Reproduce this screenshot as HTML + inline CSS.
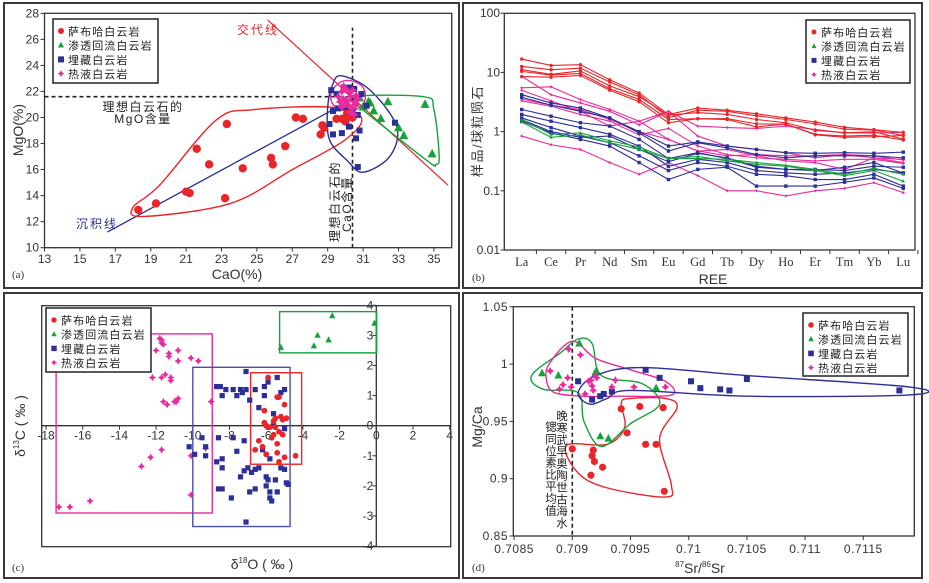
<!DOCTYPE html>
<html><head><meta charset="utf-8">
<style>
html,body{margin:0;padding:0;background:#fff;}
svg{display:block;font-family:"Liberation Sans","Noto Sans CJK SC",sans-serif;}
</style></head>
<body>
<svg id="fig" width="929" height="583" viewBox="0 0 929 583" xmlns="http://www.w3.org/2000/svg"></svg>
<script>
// ---------- Panel (a) data: CaO (%) vs MgO (%) ----------
const aRedX = [18.3,19.3,21.0,21.2,21.6,22.3,23.2,23.3,24.2,25.8,25.9,26.6,27.2,27.6,28.6,28.7,28.8,29.5,29.8,30.0,30.1,30.3,30.4];
const aRedY = [12.9,13.4,14.3,14.2,17.6,16.4,13.8,19.5,16.1,16.9,16.4,17.8,20.0,19.9,18.7,19.4,19.2,19.9,19.9,19.7,20.3,20.1,20.0];
const aGreenX = [30.8,31.0,31.3,31.4,31.6,32.0,32.4,33.0,33.3,34.5,34.9];
const aGreenY = [21.5,20.8,21.2,21.1,20.5,19.9,21.2,19.2,18.6,21.0,17.2];
const aBlueX = [29.2,29.5,29.9,30.2,30.5,30.9,29.3,29.6,30.0,30.4,30.7,29.1,29.3,29.8,30.2,30.6,30.8,32.8,30.7,31.2];
const aBlueY = [22.1,21.8,22.3,22.3,22.2,21.8,20.5,20.7,20.8,20.6,20.2,19.5,18.7,18.8,19.3,18.4,19.0,19.6,16.2,20.9];
const aMagX = [29.6,29.8,30.0,30.2,30.4,30.6,29.7,29.9,30.1,30.3,30.5,30.7,29.8,30.0,30.2,30.4,30.6,29.9,30.3,30.5];
const aMagY = [21.6,22.0,22.2,21.9,22.1,21.7,21.2,21.4,21.3,21.6,21.2,21.4,20.8,21.0,20.9,20.7,21.0,22.4,20.4,20.2];
const aRedEnvX = [18.0,19.5,22.7,24.8,29.1,30.9,30.0,27.0,23.5,18.6];
const aRedEnvY = [13.1,14.8,19.8,20.6,20.8,20.0,18.3,16.0,13.4,12.4];
const aBlueEnvX = [29.8,31.4,32.9,32.5,31.0,30.1,29.1,29.0,29.3];
const aBlueEnvY = [23.2,22.1,19.3,17.0,15.8,16.7,18.3,20.8,22.6];
const aGreenEnvX = [30.3,34.4,35.0,35.3,35.1,34.6,30.8];
const aGreenEnvY = [21.6,21.6,20.6,17.0,16.4,16.7,20.8];
const aMagEnvX = [29.2,29.7,30.4,31.0,31.1,30.6,30.0,29.3];
const aMagEnvY = [21.9,22.7,22.8,22.3,21.3,20.6,20.5,21.0];
const aXTicks = [13,15,17,19,21,23,25,27,29,31,33,35];
const aYTicks = [10,12,14,16,18,20,22,24,26,28];
const aReplLine = [[25.6,27.5],[35.8,14.8]];
const aSedLine = [[16.55,11.2],[30.8,21.7]];
const aIdealMgO = 21.6, aIdealCaO = 30.4;

// ---------- Panel (b) data: REE chondrite normalised ----------
const bCats = ["La","Ce","Pr","Nd","Sm","Eu","Gd","Tb","Dy","Ho","Er","Tm","Yb","Lu"];
const bYTicks = [100,10,1,0.1,0.01];
const bYLabels = ["100","10","1","0.1","0.01"];
const bRed = [
 [16.8,13.1,13.5,7.5,4.5,1.94,2.5,2.3,2.0,1.7,1.45,1.18,1.08,0.97],
 [12.6,11.1,11.8,6.9,4.2,1.72,2.3,2.2,1.85,1.6,1.35,1.1,1.06,0.86],
 [11.1,9.3,10.6,5.9,3.9,1.9,2.1,1.95,1.6,1.41,1.05,0.96,0.99,0.75],
 [10.4,9.0,9.6,5.3,3.5,1.6,1.65,1.65,1.35,1.33,0.9,0.84,0.87,0.72],
 [8.5,8.3,8.9,5.0,3.2,1.41,1.65,1.6,1.2,1.35,0.88,0.8,0.82,0.86]];
const bGreen = [
 [1.6,0.9,0.95,0.7,0.55,0.35,0.35,0.34,0.3,0.27,0.23,0.19,0.24,0.19],
 [1.45,0.8,0.88,0.65,0.5,0.35,0.38,0.32,0.28,0.26,0.22,0.18,0.22,0.145]];
const bBlue = [
 [4.2,3.05,2.5,1.7,1.0,0.57,0.67,0.57,0.5,0.44,0.43,0.44,0.43,0.45],
 [3.8,2.8,2.2,1.7,0.95,0.47,0.65,0.53,0.41,0.36,0.39,0.39,0.39,0.36],
 [2.36,1.82,1.41,1.24,0.74,0.35,0.44,0.35,0.25,0.23,0.23,0.22,0.26,0.25],
 [1.95,1.5,1.17,0.9,0.57,0.26,0.34,0.3,0.22,0.2,0.19,0.2,0.23,0.2],
 [1.7,1.17,0.84,0.65,0.39,0.22,0.3,0.26,0.19,0.18,0.155,0.155,0.19,0.12],
 [1.5,0.95,0.74,0.57,0.3,0.155,0.23,0.25,0.12,0.12,0.12,0.14,0.165,0.11],
 [1.6,1.0,0.8,0.84,0.5,0.31,0.43,0.36,0.26,0.23,0.22,0.25,0.3,0.2]];
const bMag = [
 [8.6,4.2,3.05,2.2,1.3,2.2,0.84,0.57,0.5,0.44,0.36,0.41,0.36,0.34],
 [5.5,5.7,3.47,2.36,1.5,2.2,1.24,1.17,1.13,1.24,1.09,0.95,0.95,0.97],
 [3.3,2.68,1.95,1.5,0.88,1.13,0.57,0.41,0.36,0.34,0.32,0.34,0.34,0.29],
 [5.0,3.3,2.2,1.24,1.5,0.74,0.47,0.5,0.39,0.32,0.3,0.23,0.36,0.3],
 [0.84,0.6,0.5,0.3,0.19,0.3,0.18,0.1,0.1,0.082,0.1,0.11,0.137,0.093],
 [3.55,2.8,2.36,1.6,1.0,0.74,0.47,0.39,0.41,0.39,0.39,0.41,0.39,0.33]];

// ---------- Panel (c) data: d18O vs d13C ----------
const cMagX = [-11.8,-11.7,-11.7,-11.6,-12.0,-11.3,-11.3,-10.8,-10.8,-10.1,-9.7,-12.2,-11.7,-11.5,-11.2,-11.2,-11.6,-11.4,-11.0,-10.9,-10.8,-9.0,-11.7,-12.3,-12.8,-10.1,-10.1,-9.3,-15.6,-16.7,-17.3];
const cMagY = [2.9,2.85,2.75,2.7,2.5,2.4,2.3,2.5,2.15,2.25,2.15,1.6,1.6,1.7,1.6,1.5,0.8,0.7,0.8,0.8,0.9,0.8,-0.8,-1.05,-1.35,-1.0,-2.3,-0.75,-2.5,-2.7,-2.7];
const cGreenX = [-5.2,-3.4,-3.2,-2.6,-2.4,-0.1];
const cGreenY = [2.6,2.65,3.0,2.85,3.65,3.4];
const cBlueX = [-7.1,-8.7,-8.5,-8.2,-7.8,-7.4,-7.3,-7.1,-6.6,-6.1,-5.9,-5.4,-5.2,-5.0,-8.4,-7.6,-6.9,-6.1,-6.4,-5.6,-5.6,-5.0,-9.5,-10.2,-9.3,-8.6,-7.8,-7.2,-9.9,-9.3,-8.7,-8.4,-8.4,-7.6,-6.2,-5.8,-7.2,-7.0,-6.8,-6.6,-6.4,-7.4,-6.0,-5.9,-5.2,-5.5,-5.0,-4.9,-4.8,-8.6,-8.4,-6.6,-6.9,-6.0,-5.8,-5.4,-5.8,-5.7,-7.9,-7.1];
const cBlueY = [1.8,1.3,1.3,1.2,1.2,1.2,1.1,1.2,1.2,1.3,1.45,1.6,1.1,1.2,1.0,1.0,0.85,1.0,0.6,0.4,0.0,-0.1,-0.4,-0.7,-0.7,-0.4,-0.4,-0.5,-0.95,-1.0,-1.2,-1.1,-1.4,-0.85,-0.8,-1.1,-1.5,-1.4,-1.55,-1.45,-1.4,-1.7,-1.7,-1.8,-1.4,-1.8,-1.45,-1.9,-1.95,-2.1,-2.1,-2.1,-2.2,-2.0,-2.2,-2.2,-2.4,-2.5,-2.4,-3.2];
const cRedX = [-5.9,-5.4,-5.3,-5.0,-6.1,-6.1,-5.5,-5.2,-5.1,-4.9,-5.6,-5.9,-6.0,-5.8,-5.5,-5.3,-5.1,-5.6,-6.4,-5.4,-6.2,-6.6,-6.0,-5.4,-5.0,-5.3,-4.4,-5.7];
const cRedY = [1.6,0.95,0.95,0.7,0.5,0.1,0.25,0.3,0.2,0.25,0.15,-0.05,0.0,-0.05,-0.05,-0.2,-0.3,-0.3,-0.5,-0.6,-0.7,-0.8,-0.95,-0.9,-1.05,-1.2,-1.0,-0.4];
const cMagBox = [-17.45,-8.94,-2.9,3.05];
const cBlueBox = [-10.0,-4.7,-3.35,1.94];
const cRedBox = [-6.85,-4.07,-1.28,1.76];
const cGreenBox = [-5.27,0.02,2.42,3.79];
const cXTicks = [-18,-16,-14,-12,-10,-8,-6,-4,-2,0,2,4];
const cYTicks = [-4,-3,-2,-1,0,1,2,3,4];

// ---------- Panel (d) data: 87Sr/86Sr vs Mg/Ca ----------
const dRedX = [0.7090,0.70918,0.70917,0.70919,0.70916,0.70926,0.70942,0.70947,0.70958,0.70963,0.70972,0.70978,0.70979];
const dRedY = [0.926,0.925,0.920,0.915,0.903,0.910,0.961,0.940,0.963,0.930,0.930,0.962,0.889];
const dGreenX = [0.70874,0.70888,0.70906,0.70920,0.70924,0.70931,0.70972];
const dGreenY = [0.992,0.990,1.018,0.993,0.937,0.935,0.979];
const dBlueX = [0.70905,0.70917,0.70924,0.70927,0.70934,0.70963,0.70975,0.71002,0.7101,0.71027,0.71035,0.7105,0.71181];
const dBlueY = [0.985,0.969,0.972,0.974,0.976,0.995,0.988,0.985,0.979,0.978,0.977,0.987,0.977];
const dMagX = [0.70881,0.70889,0.70892,0.70896,0.70897,0.70899,0.70907,0.70911,0.70914,0.70916,0.70917,0.70918,0.7092,0.70921,0.70934,0.70937,0.70953,0.7098];
const dMagY = [0.994,0.978,0.982,0.988,1.013,0.980,1.008,0.974,0.985,0.986,0.981,0.977,0.990,0.988,0.980,0.986,0.980,0.980];
const dRedEnvX = [0.70895,0.7093,0.70945,0.70942,0.7095,0.7098,0.7099,0.70975,0.70985,0.7098,0.7093,0.70905];
const dRedEnvY = [0.929,0.930,0.945,0.966,0.970,0.970,0.962,0.935,0.895,0.884,0.892,0.905];
const dGreenEnvX = [0.70865,0.7089,0.70905,0.70917,0.70925,0.7096,0.70975,0.7095,0.70925,0.7091,0.70905,0.70875];
const dGreenEnvY = [0.990,1.010,1.022,1.018,0.990,0.983,0.965,0.948,0.928,0.950,0.975,0.978];
const dMagEnvX = [0.7088,0.709,0.7092,0.7095,0.7098,0.70985,0.7094,0.7091,0.70885,0.70878];
const dMagEnvY = [1.000,1.020,1.005,0.995,0.985,0.973,0.972,0.972,0.975,0.985];
const dBlueEnvX = [0.70905,0.7092,0.7096,0.7105,0.7119,0.71188,0.7105,0.7095,0.7093,0.70915];
const dBlueEnvY = [0.975,0.990,0.997,0.990,0.980,0.973,0.972,0.977,0.970,0.965];
const dXTicks = [0.7085,0.709,0.7095,0.71,0.7105,0.711,0.7115];
const dXLabels = ["0.7085","0.709","0.7095","0.71","0.7105","0.711","0.7115"];
const dYTicks = [0.85,0.9,0.95,1,1.05];
const dYLabels = ["0.85","0.9","0.95","1","1.05"];
const dSeawater = 0.709;

const legendNames = ["萨布哈白云岩","渗透回流白云岩","埋藏白云岩","热液白云岩"];

// ---------- helpers ----------
const NS = "http://www.w3.org/2000/svg";
const svg = document.getElementById("fig");
const RED="#e8262a", GREEN="#17a13a", BLUE="#2b2f96", MAG="#ea2a9c", INK="#333";
function mk(parent, tag, attrs, text){
  const el = document.createElementNS(NS, tag);
  for (const k in attrs) el.setAttribute(k, attrs[k]);
  if (text !== undefined) el.textContent = text;
  parent.appendChild(el);
  return el;
}
function group(name){
  const g = mk(svg, "g", {});
  
  
  return g;
}
function marker(g, type, x, y, s, name){
  let el;
  if (type === "circle") el = mk(g, "circle", {cx:x, cy:y, r:s, fill:RED});
  else if (type === "tri") el = mk(g, "polygon", {points:`${x},${y-s*1.15} ${x+s},${y+s*0.75} ${x-s},${y+s*0.75}`, fill:GREEN});
  else if (type === "square") el = mk(g, "rect", {x:x-s, y:y-s, width:2*s, height:2*s, fill:BLUE});
  else {
    const a=s*1.1, b=s*0.4;
    el = mk(g, "polygon", {points:`${x},${y-a} ${x+b},${y-b} ${x+a},${y} ${x+b},${y+b} ${x},${y+a} ${x-b},${y+b} ${x-a},${y} ${x-b},${y-b}`, fill:MAG});
  }
  
  
  return el;
}
function closedSpline(pts){
  const n = pts.length; let d = `M${pts[0][0]},${pts[0][1]}`;
  for (let i=0;i<n;i++){
    const p0=pts[(i-1+n)%n], p1=pts[i], p2=pts[(i+1)%n], p3=pts[(i+2)%n];
    const c1=[p1[0]+(p2[0]-p0[0])/6, p1[1]+(p2[1]-p0[1])/6];
    const c2=[p2[0]-(p3[0]-p1[0])/6, p2[1]-(p3[1]-p1[1])/6];
    d += ` C${c1[0]},${c1[1]} ${c2[0]},${c2[1]} ${p2[0]},${p2[1]}`;
  }
  return d + "Z";
}
function envelope(g, xs, ys, sx, sy, color, name){
  const pts = xs.map((v,i)=>[sx(v), sy(ys[i])]);
  const el = mk(g, "path", {d:closedSpline(pts), fill:"none", stroke:color, "stroke-width":1.4});
  
  
}
function txt(g, x, y, s, opts, name){
  const a = Object.assign({x:x, y:y, "font-size":12, fill:INK}, opts||{});
  const el = mk(g, "text", a, s);
  
  
  return el;
}
function frame(x1,y1,x2,y2,name){
  const el = mk(svg, "rect", {x:x1, y:y1, width:x2-x1, height:y2-y1, fill:"none", stroke:"#3a3a3a", "stroke-width":2});
  
  
}
function legend(x, y, w, h, rowH, size, name){
  const g = group(name);
  const box = mk(g, "rect", {x:x, y:y, width:w, height:h, fill:"#fff", stroke:"#222", "stroke-width":1.5});
  
  
  const types = ["circle","tri","square","star"];
  legendNames.forEach((nm,i)=>{
    const yy = y + 12 + i*rowH;
    marker(g, types[i], x+8, yy, size, 'legend-marker');
    txt(g, x+15, yy+4.5, nm, {"font-size":11, "letter-spacing":1.1, fill:"#222"}, 'legend-entry');
  });
}

frame(4,3,459,288,'panel-a-frame');
frame(463,3,922,288,'panel-b-frame');
frame(4,293,459,578,'panel-c-frame');
frame(463,293,922,578,'panel-d-frame');

// ================= Panel (a) =================
(function(){
  const ax = v => 44.5 + (v-13)*17.7;
  const ay = v => 247.7 - (v-10)*13.02;
  const g = group('panel-a');
  const b = mk(g,"rect",{x:44.5,y:13.3,width:407.2,height:234.4,fill:"none",stroke:INK,"stroke-width":1.3});
   
  aXTicks.forEach(t=>{
    const l = mk(g,"line",{x1:ax(t),x2:ax(t),y1:247.7,y2:251.5,stroke:INK});
     
    txt(g, ax(t), 263, t, {"text-anchor":"middle"}, 'x-tick-label');
  });
  aYTicks.forEach(t=>{
    const l = mk(g,"line",{x1:40.5,x2:44.5,y1:ay(t),y2:ay(t),stroke:INK});
     
    txt(g, 39, ay(t)+4, t, {"text-anchor":"end"}, 'y-tick-label');
  });
  txt(g, 18, 130, "MgO(%)", {"font-size":14, transform:"rotate(-90 18 130)", "text-anchor":"middle", dy:5}, 'y-axis-title');
  txt(g, 237, 279, "CaO(%)", {"font-size":14, "text-anchor":"middle"}, 'x-axis-title');
  txt(g, 12, 278, "(a)", {"font-size":11, "font-family":"Liberation Serif, serif"}, 'panel-label');
  let l = mk(g,"line",{x1:ax(aReplLine[0][0]),y1:ay(aReplLine[0][1]),x2:ax(aReplLine[1][0]),y2:ay(aReplLine[1][1]),stroke:RED,"stroke-width":1.2});
   
  l = mk(g,"line",{x1:ax(aSedLine[0][0]),y1:ay(aSedLine[0][1]),x2:ax(aSedLine[1][0]),y2:ay(aSedLine[1][1]),stroke:BLUE,"stroke-width":1.3});
   
  l = mk(g,"line",{x1:ax(13),y1:ay(aIdealMgO),x2:ax(aIdealCaO),y2:ay(aIdealMgO),stroke:"#222","stroke-width":1.6,"stroke-dasharray":"4,3"});
   
  l = mk(g,"line",{x1:ax(aIdealCaO),y1:ay(10),x2:ax(aIdealCaO),y2:ay(26.9),stroke:"#222","stroke-width":1.6,"stroke-dasharray":"4,3"});
   
  envelope(g, aRedEnvX, aRedEnvY, ax, ay, RED, 'sabkha-envelope');
  envelope(g, aBlueEnvX, aBlueEnvY, ax, ay, BLUE, 'burial-envelope');
  envelope(g, aGreenEnvX, aGreenEnvY, ax, ay, GREEN, 'reflux-envelope');
  envelope(g, aMagEnvX, aMagEnvY, ax, ay, MAG, 'hydrothermal-envelope');
  aRedX.forEach((v,i)=>marker(g,"circle",ax(v),ay(aRedY[i]),4.2,'sabkha-point'));
  aGreenX.forEach((v,i)=>marker(g,"tri",ax(v),ay(aGreenY[i]),4.5,'reflux-point'));
  aBlueX.forEach((v,i)=>marker(g,"square",ax(v),ay(aBlueY[i]),3,'burial-point'));
  aMagX.forEach((v,i)=>marker(g,"star",ax(v),ay(aMagY[i]),4,'hydrothermal-point'));
  txt(g, 237, 34, "交代线", {fill:RED, "letter-spacing":2}, 'replacement-line-label');
  txt(g, 76, 228, "沉积线", {fill:BLUE, "letter-spacing":2}, 'sedimentation-line-label');
  txt(g, 143, 111, "理想白云石的", {"text-anchor":"middle","letter-spacing":1.5,fill:"#222"}, 'ideal-mgo-label');
  txt(g, 143, 123, "MgO含量", {"text-anchor":"middle","letter-spacing":1.5,fill:"#222"}, 'ideal-mgo-label');
  txt(g, 0, 0, "理想白云石的", {"letter-spacing":1.5,fill:"#222",transform:"translate(339,242) rotate(-90)"}, 'ideal-cao-label');
  txt(g, 0, 0, "CaO含量", {"letter-spacing":1.5,fill:"#222",transform:"translate(351,232) rotate(-90)"}, 'ideal-cao-label');
})();
legend(53,19,105,64,14.2,3,'legend-a');

// ================= Panel (b) =================
(function(){
  const bx = i => 521.7 + i*29.35;
  const by = v => 250 - (Math.log10(v)+2)*59.2;
  const g = group('panel-b');
  const b = mk(g,"rect",{x:504.3,y:13.3,width:410.7,height:236.7,fill:"none",stroke:INK,"stroke-width":1.3});
   
  bYTicks.forEach((t,i)=>{
    const l = mk(g,"line",{x1:500.5,x2:504.3,y1:by(t),y2:by(t),stroke:INK});
     
    txt(g, 500, by(t)+4, bYLabels[i], {"text-anchor":"end"}, 'y-tick-label');
  });
  bCats.forEach((c,i)=>{
    const l = mk(g,"line",{x1:bx(i)+14.7,x2:bx(i)+14.7,y1:250,y2:254,stroke:INK});
     
    txt(g, bx(i), 266, c, {"text-anchor":"middle","font-family":"Liberation Serif, serif","font-size":12.5}, 'x-tick-label');
  });
  txt(g, 713, 284, "REE", {"font-size":14,"text-anchor":"middle"}, 'x-axis-title');
  txt(g, 472, 281, "(b)", {"font-size":11, "font-family":"Liberation Serif, serif"}, 'panel-label');
  txt(g, 0, 0, "样品/球粒陨石", {"font-size":13,"letter-spacing":1.5,"text-anchor":"middle",transform:"translate(482,131) rotate(-90)"}, 'y-axis-title');
  function series(arr, color, type, name){
    arr.forEach(vals=>{
      const pl = mk(g,"polyline",{points:vals.map((v,i)=>`${bx(i)},${by(v)}`).join(" "),fill:"none",stroke:color,"stroke-width":1.1});
      
      
      vals.forEach((v,i)=>marker(g,type,bx(i),by(v),1.7,name+'-point'));
    });
  }
  series(bMag, MAG, "star", 'hydrothermal');
  series(bBlue, BLUE, "square", 'burial');
  series(bGreen, GREEN, "tri", 'reflux');
  series(bRed, RED, "circle", 'sabkha');
})();
legend(806,20,104,63,14.2,2.5,'legend-b');

// ================= Panel (c) =================
(function(){
  const cx = v => 376.3 + v*18.35;
  const cy = v => 425.7 - v*30.1;
  const g = group('panel-c');
  const b = mk(g,"rect",{x:41.7,y:305.7,width:409,height:241,fill:"none",stroke:INK,"stroke-width":1.3});
   
  let l = mk(g,"line",{x1:41.7,x2:450.7,y1:cy(0),y2:cy(0),stroke:INK,"stroke-width":1.3});
   
  l = mk(g,"line",{x1:cx(0),x2:cx(0),y1:305.7,y2:546.7,stroke:INK,"stroke-width":1.3});
   
  cXTicks.forEach(t=>{
    const k = mk(g,"line",{x1:cx(t),x2:cx(t),y1:cy(0),y2:cy(0)+4,stroke:INK});
     
    txt(g, cx(t), cy(0)+14, t, {"text-anchor":"middle"}, 'x-tick-label');
  });
  cYTicks.forEach(t=>{
    const k = mk(g,"line",{x1:cx(0)-4,x2:cx(0),y1:cy(t),y2:cy(t),stroke:INK});
     
    txt(g, cx(0)-3, cy(t)+4, t, {"text-anchor":"end"}, 'y-tick-label');
  });
  function box(bb, color, name){
    const r = mk(g,"rect",{x:cx(bb[0]),y:cy(bb[3]),width:cx(bb[1])-cx(bb[0]),height:cy(bb[2])-cy(bb[3]),fill:"none",stroke:color,"stroke-width":1.4});
    
    
  }
  box(cMagBox, MAG, 'hydrothermal-box');
  box(cBlueBox, "#4a4fa8", 'burial-box');
  box(cRedBox, RED, 'sabkha-box');
  box(cGreenBox, GREEN, 'reflux-box');
  cMagX.forEach((v,i)=>marker(g,"star",cx(v),cy(cMagY[i]),3.3,'hydrothermal-point'));
  cBlueX.forEach((v,i)=>marker(g,"square",cx(v),cy(cBlueY[i]),2.6,'burial-point'));
  cRedX.forEach((v,i)=>marker(g,"circle",cx(v),cy(cRedY[i]),2.9,'sabkha-point'));
  cGreenX.forEach((v,i)=>marker(g,"tri",cx(v),cy(cGreenY[i]),3.2,'reflux-point'));
  const t1 = txt(g, 0, 0, "", {"font-size":14,transform:"translate(25,426) rotate(-90)","text-anchor":"middle"}, 'y-axis-title');
  t1.innerHTML = 'δ<tspan font-size="8" dy="-6">13</tspan><tspan dy="6">C ( ‰ )</tspan>';
  const t2 = txt(g, 262, 569, "", {"font-size":14,"text-anchor":"middle"}, 'x-axis-title');
  t2.innerHTML = 'δ<tspan font-size="8" dy="-6">18</tspan><tspan dy="6">O ( ‰ )</tspan>';
  txt(g, 12, 571, "(c)", {"font-size":11, "font-family":"Liberation Serif, serif"}, 'panel-label');
})();
legend(46,308,105,64,14.2,2.7,'legend-c');

// ================= Panel (d) =================
(function(){
  const dx = v => 514.1 + (v-0.7085)/0.0005*58.2;
  const dy = v => 536 - (v-0.85)/0.05*57.3;
  const g = group('panel-d');
  const b = mk(g,"rect",{x:513.3,y:306.7,width:401,height:229.3,fill:"none",stroke:INK,"stroke-width":1.3});
   
  dXTicks.forEach((t,i)=>{
    const k = mk(g,"line",{x1:dx(t),x2:dx(t),y1:536,y2:540,stroke:INK});
     
    txt(g, dx(t), 553, dXLabels[i], {"text-anchor":"middle","letter-spacing":0.5}, 'x-tick-label');
  });
  dYTicks.forEach((t,i)=>{
    const k = mk(g,"line",{x1:509.5,x2:513.3,y1:dy(t),y2:dy(t),stroke:INK});
     
    txt(g, 508, dy(t)+4, dYLabels[i], {"text-anchor":"end","letter-spacing":0.5}, 'y-tick-label');
  });
  const l = mk(g,"line",{x1:dx(dSeawater),x2:dx(dSeawater),y1:306.7,y2:536,stroke:"#222","stroke-width":1.6,"stroke-dasharray":"4,3"});
   
  envelope(g, dRedEnvX, dRedEnvY, dx, dy, RED, 'sabkha-envelope');
  envelope(g, dGreenEnvX, dGreenEnvY, dx, dy, GREEN, 'reflux-envelope');
  envelope(g, dMagEnvX, dMagEnvY, dx, dy, MAG, 'hydrothermal-envelope');
  envelope(g, dBlueEnvX, dBlueEnvY, dx, dy, BLUE, 'burial-envelope');
  dRedX.forEach((v,i)=>marker(g,"circle",dx(v),dy(dRedY[i]),3.6,'sabkha-point'));
  dGreenX.forEach((v,i)=>marker(g,"tri",dx(v),dy(dGreenY[i]),4,'reflux-point'));
  dBlueX.forEach((v,i)=>marker(g,"square",dx(v),dy(dBlueY[i]),3,'burial-point'));
  dMagX.forEach((v,i)=>marker(g,"star",dx(v),dy(dMagY[i]),3.6,'hydrothermal-point'));
  const c1 = "晚寒武早奥陶世古海水", c2 = "锶同位素比平均值";
  [...c1].forEach((ch,i)=>txt(g, 562, 420+i*11.9, ch, {"font-size":11.5,"text-anchor":"middle",fill:"#222"}, 'seawater-label'));
  [...c2].forEach((ch,i)=>txt(g, 551, 431+i*11.9, ch, {"font-size":11.5,"text-anchor":"middle",fill:"#222"}, 'seawater-label'));
  txt(g, 0, 0, "Mg/Ca", {"font-size":14,"text-anchor":"middle",transform:"translate(482,427) rotate(-90)"}, 'y-axis-title');
  const t2 = txt(g, 700, 573, "", {"font-size":14,"text-anchor":"middle"}, 'x-axis-title');
  t2.innerHTML = '<tspan font-size="8" dy="-6">87</tspan><tspan dy="6">Sr/</tspan><tspan font-size="8" dy="-6">86</tspan><tspan dy="6">Sr</tspan>';
  txt(g, 472, 571, "(d)", {"font-size":11, "font-family":"Liberation Serif, serif"}, 'panel-label');
})();
legend(803,313,105,63,14.2,2.8,'legend-d');
</script>
</body></html>
